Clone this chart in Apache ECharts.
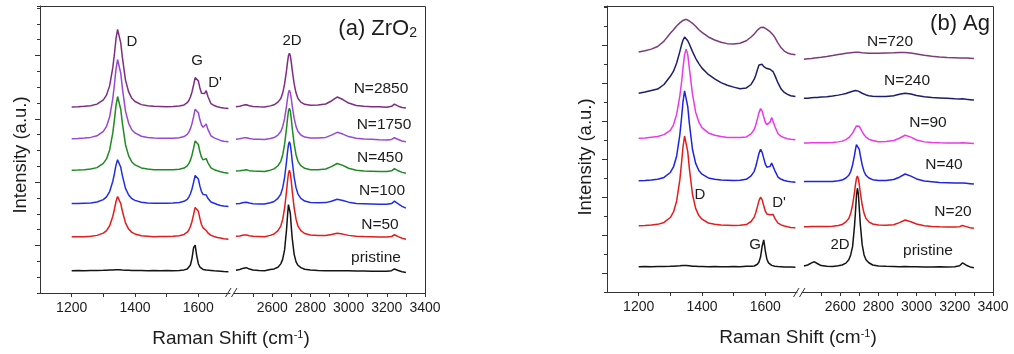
<!DOCTYPE html>
<html>
<head>
<meta charset="utf-8">
<title>Raman spectra</title>
<script src="https://cdn.jsdelivr.net/npm/echarts@6/dist/echarts.min.js"></script>
<style>
  html, body { margin: 0; padding: 0; background: #fff; }
  #chart { width: 1014px; height: 354px; }
</style>
</head>
<body>
<div id="chart"></div>
<script>
// Raman shift sampling (cm^-1), shared by every spectrum
const ramanLow = [1200, 1220, 1240, 1260, 1280, 1300, 1310, 1320, 1330, 1335, 1340, 1345, 1350, 1355, 1360, 1370,
  1380, 1390, 1400, 1420, 1440, 1460, 1480, 1500, 1520, 1540, 1555, 1565, 1570, 1575, 1580, 1585, 1590, 1595,
  1600, 1605, 1610, 1615, 1620, 1625, 1630, 1640, 1650, 1660, 1670, 1680, 1695]
const ramanHigh = [2410, 2430, 2450, 2465, 2480, 2500, 2530, 2560, 2590, 2610, 2630, 2645, 2655, 2665, 2675, 2680,
  2685, 2690, 2695, 2700, 2705, 2715, 2725, 2735, 2750, 2770, 2800, 2840, 2880, 2910, 2940, 2970, 3000, 3040,
  3080, 3120, 3160, 3200, 3225, 3240, 3250, 3260, 3280, 3300]

const lowTicks = [1200, 1300, 1400, 1500, 1600]
const lowTickLabels = [1200, 1400, 1600]
const highTicks = [2500, 2600, 2700, 2800, 2900, 3000, 3100, 3200, 3300, 3400]
const highTickLabels = [2600, 2800, 3000, 3200, 3400]
const zrMajorTicks = [3, 7, 11, 15]
const agMajorTicks = [1, 3, 5, 7, 9, 11, 13]

// (a) ZrO2 - stacked intensities (offset, a.u.)
const zrNames = ['N=2850', 'N=1750', 'N=450', 'N=100', 'N=50', 'pristine']
const zrColors = ['#7e2d82', '#9848d4', '#1f8a22', '#1f2fe0', '#e31d1d', '#141414']
const zr2850Low = [11.75, 11.76, 11.79, 11.83, 11.93, 12.20, 12.50, 13.10, 14.25, 15.10, 16.05, 16.65, 16.55, 15.80, 14.90, 13.45,
  12.70, 12.30, 12.10, 11.90, 11.83, 11.79, 11.78, 11.77, 11.78, 11.81, 11.88, 12.02, 12.16, 12.38, 12.70, 13.14, 13.61, 13.72,
  13.40, 12.95, 12.62, 12.50, 12.61, 12.78, 12.43, 11.96, 11.84, 11.77, 11.72, 11.68, 11.66]
const zr2850High = [11.77, 11.80, 11.87, 11.89, 11.83, 11.78, 11.76, 11.75, 11.82, 11.89, 12.06, 12.29, 12.63, 13.21, 14.06, 14.57,
  14.98, 15.15, 14.98, 14.57, 14.06, 13.21, 12.63, 12.29, 12.06, 11.92, 11.86, 11.87, 11.94, 12.13, 12.38, 12.22, 12.00, 11.85,
  11.79, 11.77, 11.76, 11.74, 11.79, 11.93, 11.92, 11.80, 11.72, 11.68]
const zr1750Low = [9.75, 9.76, 9.79, 9.83, 9.93, 10.21, 10.52, 11.13, 12.30, 13.17, 14.14, 14.75, 14.65, 13.88, 12.96, 11.49,
  10.72, 10.31, 10.11, 9.90, 9.83, 9.79, 9.78, 9.77, 9.78, 9.81, 9.88, 10.02, 10.16, 10.38, 10.70, 11.14, 11.61, 11.72,
  11.39, 10.94, 10.61, 10.47, 10.54, 10.68, 10.35, 9.93, 9.80, 9.72, 9.64, 9.59, 9.55]
const zr1750High = [9.72, 9.74, 9.80, 9.81, 9.76, 9.72, 9.71, 9.70, 9.76, 9.82, 9.98, 10.20, 10.51, 11.03, 11.81, 12.27,
  12.65, 12.80, 12.65, 12.27, 11.81, 11.03, 10.51, 10.20, 9.98, 9.85, 9.79, 9.79, 9.83, 9.97, 10.15, 10.04, 9.88, 9.77,
  9.73, 9.71, 9.68, 9.67, 9.70, 9.81, 9.80, 9.70, 9.60, 9.55]
const zr450Low = [7.76, 7.77, 7.79, 7.83, 7.92, 8.19, 8.47, 9.04, 10.13, 10.94, 11.84, 12.41, 12.32, 11.61, 10.75, 9.37,
  8.66, 8.28, 8.09, 7.90, 7.83, 7.79, 7.79, 7.78, 7.79, 7.82, 7.89, 8.03, 8.17, 8.39, 8.71, 9.15, 9.61, 9.72,
  9.38, 8.92, 8.58, 8.41, 8.42, 8.49, 8.24, 7.90, 7.79, 7.72, 7.66, 7.61, 7.57]
const zr450High = [7.70, 7.72, 7.76, 7.78, 7.73, 7.70, 7.69, 7.68, 7.76, 7.84, 8.04, 8.32, 8.72, 9.40, 10.40, 11.00,
  11.48, 11.68, 11.48, 11.00, 10.40, 9.40, 8.72, 8.32, 8.04, 7.88, 7.79, 7.79, 7.83, 7.98, 8.18, 8.06, 7.88, 7.75,
  7.71, 7.69, 7.67, 7.68, 7.72, 7.86, 7.85, 7.72, 7.62, 7.56]
const zr100Low = [5.65, 5.65, 5.67, 5.69, 5.75, 5.90, 6.07, 6.41, 7.06, 7.54, 8.08, 8.42, 8.37, 7.94, 7.43, 6.61,
  6.19, 5.96, 5.85, 5.73, 5.69, 5.67, 5.67, 5.67, 5.69, 5.72, 5.79, 5.92, 6.06, 6.27, 6.57, 6.99, 7.42, 7.52,
  7.20, 6.75, 6.41, 6.23, 6.18, 6.19, 5.99, 5.75, 5.67, 5.59, 5.53, 5.49, 5.46]
const zr100High = [5.64, 5.66, 5.72, 5.73, 5.68, 5.64, 5.63, 5.62, 5.70, 5.78, 5.98, 6.25, 6.64, 7.31, 8.30, 8.89,
  9.36, 9.56, 9.36, 8.89, 8.30, 7.31, 6.64, 6.25, 5.98, 5.81, 5.72, 5.70, 5.71, 5.80, 5.92, 5.84, 5.74, 5.66,
  5.64, 5.62, 5.60, 5.60, 5.65, 5.80, 5.79, 5.63, 5.47, 5.36]
const zr50Low = [3.55, 3.55, 3.56, 3.59, 3.64, 3.78, 3.94, 4.25, 4.85, 5.29, 5.78, 6.09, 6.04, 5.65, 5.18, 4.43,
  4.04, 3.83, 3.73, 3.62, 3.59, 3.56, 3.57, 3.57, 3.59, 3.62, 3.70, 3.84, 3.98, 4.20, 4.52, 4.96, 5.41, 5.51,
  5.17, 4.70, 4.33, 4.11, 4.00, 3.95, 3.80, 3.64, 3.57, 3.51, 3.47, 3.43, 3.40]
const zr50High = [3.58, 3.60, 3.66, 3.67, 3.62, 3.58, 3.57, 3.56, 3.64, 3.73, 3.94, 4.23, 4.65, 5.37, 6.42, 7.05,
  7.55, 7.76, 7.55, 7.05, 6.42, 5.37, 4.65, 4.23, 3.94, 3.76, 3.66, 3.63, 3.63, 3.69, 3.78, 3.72, 3.64, 3.59,
  3.57, 3.56, 3.54, 3.54, 3.57, 3.68, 3.67, 3.56, 3.46, 3.40]
const zr0Low = [1.41, 1.42, 1.41, 1.42, 1.42, 1.43, 1.44, 1.45, 1.46, 1.47, 1.47, 1.47, 1.47, 1.46, 1.45, 1.44,
  1.43, 1.42, 1.42, 1.42, 1.41, 1.42, 1.41, 1.42, 1.41, 1.42, 1.46, 1.52, 1.59, 1.77, 2.19, 2.87, 3.03, 2.35,
  1.85, 1.64, 1.54, 1.49, 1.47, 1.45, 1.44, 1.42, 1.40, 1.39, 1.38, 1.36, 1.35]
const zr0High = [1.44, 1.48, 1.57, 1.60, 1.51, 1.45, 1.42, 1.41, 1.48, 1.52, 1.63, 1.84, 2.14, 2.74, 3.99, 4.85,
  5.58, 5.62, 5.02, 4.16, 3.43, 2.44, 1.97, 1.75, 1.60, 1.50, 1.45, 1.42, 1.41, 1.40, 1.41, 1.40, 1.40, 1.39,
  1.39, 1.38, 1.38, 1.38, 1.41, 1.52, 1.52, 1.42, 1.34, 1.30]

// (b) Ag
const agNames = ['N=720', 'N=240', 'N=90', 'N=40', 'N=20', 'pristine']
const agColors = ['#7c3b7a', '#1d1d6c', '#e83ae8', '#1f22e2', '#e31d1d', '#141414']
const ag720Low = [12.63, 12.70, 12.78, 12.92, 13.20, 13.62, 13.80, 14.00, 14.16, 14.23, 14.29, 14.33, 14.35, 14.32, 14.26, 14.14,
  13.98, 13.80, 13.66, 13.42, 13.26, 13.14, 13.07, 13.05, 13.09, 13.22, 13.42, 13.58, 13.68, 13.78, 13.86, 13.92, 13.95, 13.93,
  13.88, 13.82, 13.76, 13.70, 13.62, 13.52, 13.40, 13.10, 12.85, 12.68, 12.58, 12.52, 12.48]
const ag720High = [12.25, 12.27, 12.29, 12.31, 12.33, 12.35, 12.39, 12.44, 12.50, 12.53, 12.56, 12.58, 12.59, 12.60, 12.61, 12.61,
  12.61, 12.61, 12.61, 12.60, 12.60, 12.59, 12.58, 12.58, 12.57, 12.57, 12.57, 12.58, 12.59, 12.60, 12.60, 12.58, 12.53, 12.46,
  12.41, 12.37, 12.34, 12.33, 12.32, 12.32, 12.31, 12.31, 12.30, 12.29]
const ag240Low = [10.46, 10.52, 10.60, 10.68, 10.92, 11.35, 11.62, 12.05, 12.65, 12.98, 13.25, 13.42, 13.38, 13.22, 13.05, 12.65,
  12.30, 12.02, 11.78, 11.45, 11.22, 11.02, 10.88, 10.78, 10.70, 10.74, 10.92, 11.20, 11.42, 11.70, 11.95, 12.04, 11.98, 11.86,
  11.80, 11.76, 11.74, 11.72, 11.68, 11.58, 11.40, 11.00, 10.68, 10.50, 10.40, 10.33, 10.29]
const ag240High = [10.19, 10.20, 10.22, 10.23, 10.24, 10.26, 10.28, 10.31, 10.36, 10.40, 10.45, 10.50, 10.53, 10.56, 10.59, 10.60,
  10.60, 10.59, 10.57, 10.55, 10.52, 10.46, 10.41, 10.37, 10.33, 10.30, 10.29, 10.29, 10.33, 10.41, 10.46, 10.42, 10.34, 10.27,
  10.23, 10.21, 10.19, 10.17, 10.16, 10.17, 10.16, 10.14, 10.12, 10.10]
const ag90Low = [8.09, 8.10, 8.14, 8.18, 8.28, 8.51, 8.80, 9.36, 10.31, 10.97, 11.78, 12.49, 12.77, 12.49, 11.78, 10.41,
  9.46, 8.94, 8.65, 8.37, 8.25, 8.18, 8.13, 8.13, 8.13, 8.16, 8.32, 8.55, 8.80, 9.11, 9.44, 9.65, 9.51, 9.21,
  8.93, 8.81, 8.78, 8.94, 9.18, 9.08, 8.72, 8.33, 8.19, 8.12, 8.07, 8.04, 8.01]
const ag90High = [7.84, 7.84, 7.85, 7.85, 7.85, 7.86, 7.86, 7.87, 7.90, 7.94, 8.02, 8.12, 8.22, 8.36, 8.56, 8.66,
  8.74, 8.79, 8.78, 8.72, 8.64, 8.44, 8.27, 8.15, 8.04, 7.97, 7.91, 7.92, 7.97, 8.09, 8.25, 8.15, 8.00, 7.90,
  7.87, 7.85, 7.84, 7.84, 7.84, 7.85, 7.85, 7.84, 7.83, 7.82]
const ag40Low = [5.86, 5.87, 5.89, 5.93, 6.03, 6.29, 6.58, 7.16, 8.27, 9.09, 10.00, 10.58, 10.49, 9.76, 8.89, 7.50,
  6.77, 6.39, 6.20, 6.00, 5.93, 5.89, 5.88, 5.87, 5.88, 5.93, 6.11, 6.35, 6.62, 6.95, 7.30, 7.51, 7.35, 7.03,
  6.73, 6.57, 6.51, 6.61, 6.78, 6.68, 6.39, 6.05, 5.93, 5.87, 5.83, 5.80, 5.78]
const ag40High = [5.81, 5.81, 5.82, 5.82, 5.81, 5.81, 5.81, 5.81, 5.85, 5.89, 6.00, 6.14, 6.34, 6.69, 7.20, 7.51,
  7.76, 7.86, 7.76, 7.51, 7.20, 6.69, 6.34, 6.14, 6.00, 5.91, 5.87, 5.87, 5.92, 6.04, 6.21, 6.10, 5.95, 5.84,
  5.80, 5.76, 5.75, 5.74, 5.73, 5.73, 5.72, 5.72, 5.70, 5.68]
const ag20Low = [3.49, 3.50, 3.52, 3.56, 3.66, 3.92, 4.21, 4.79, 5.90, 6.72, 7.63, 8.21, 8.12, 7.39, 6.52, 5.13,
  4.40, 4.02, 3.83, 3.63, 3.56, 3.52, 3.51, 3.50, 3.51, 3.55, 3.71, 3.94, 4.18, 4.49, 4.81, 4.99, 4.85, 4.54,
  4.25, 4.10, 4.03, 4.06, 4.16, 4.08, 3.87, 3.62, 3.53, 3.47, 3.43, 3.40, 3.38]
const ag20High = [3.44, 3.44, 3.45, 3.45, 3.45, 3.45, 3.45, 3.46, 3.50, 3.55, 3.69, 3.87, 4.14, 4.59, 5.25, 5.65,
  5.97, 6.10, 5.97, 5.65, 5.25, 4.59, 4.14, 3.87, 3.69, 3.58, 3.52, 3.51, 3.54, 3.65, 3.79, 3.70, 3.58, 3.49,
  3.45, 3.43, 3.42, 3.42, 3.44, 3.50, 3.50, 3.44, 3.38, 3.35]
const ag0Low = [1.33, 1.34, 1.33, 1.34, 1.34, 1.35, 1.36, 1.37, 1.38, 1.39, 1.40, 1.40, 1.40, 1.39, 1.38, 1.36,
  1.35, 1.34, 1.34, 1.33, 1.34, 1.33, 1.33, 1.34, 1.33, 1.35, 1.36, 1.37, 1.40, 1.46, 1.58, 1.85, 2.41, 2.74,
  2.17, 1.72, 1.53, 1.44, 1.40, 1.38, 1.36, 1.34, 1.33, 1.32, 1.31, 1.31, 1.30]
const ag0High = [1.37, 1.42, 1.53, 1.59, 1.50, 1.39, 1.35, 1.34, 1.38, 1.42, 1.52, 1.70, 1.95, 2.40, 3.48, 4.22,
  5.05, 5.46, 5.17, 4.39, 3.60, 2.49, 1.95, 1.70, 1.54, 1.42, 1.37, 1.35, 1.34, 1.33, 1.34, 1.33, 1.33, 1.32,
  1.32, 1.33, 1.32, 1.33, 1.38, 1.53, 1.53, 1.41, 1.32, 1.28]

const zrLow = [zr2850Low, zr1750Low, zr450Low, zr100Low, zr50Low, zr0Low]
const zrHigh = [zr2850High, zr1750High, zr450High, zr100High, zr50High, zr0High]
const agLow = [ag720Low, ag240Low, ag90Low, ag40Low, ag20Low, ag0Low]
const agHigh = [ag720High, ag240High, ag90High, ag40High, ag20High, ag0High]

const FONT = '"Liberation Sans", Arial, Helvetica, sans-serif'
const TEXT = '#1c1c1c'
const AXIS = '#333'

function pairs(xs, ys) {
  return xs.map((x, i) => [x, ys[i]])
}

function shiftAxis(gridIndex, min, max, ticks, tickLabels) {
  return {
    type: 'value', gridIndex, min, max, interval: 100,
    axisLine: { onZero: false, lineStyle: { color: AXIS, width: 1 } },
    axisTick: { customValues: ticks, length: 4, lineStyle: { color: AXIS } },
    axisLabel: {
      customValues: tickLabels, fontSize: 14, color: TEXT, fontFamily: FONT, margin: 8,
      formatter: value => String(value),
    },
    splitLine: { show: false },
  }
}

function intensityAxes(gridLow, gridHigh, max, majors) {
  return [
    {
      type: 'value', gridIndex: gridLow, position: 'left', min: 0, max, interval: 1,
      axisLine: { show: true, onZero: false, lineStyle: { color: AXIS, width: 1 } },
      axisTick: { length: 3, lineStyle: { color: AXIS } },
      axisLabel: { show: false },
      splitLine: { show: false },
    },
    {
      type: 'value', gridIndex: gridLow, position: 'left', min: 0, max,
      axisLine: { show: false },
      axisTick: { customValues: majors, length: 5, lineStyle: { color: AXIS } },
      axisLabel: { show: false },
      splitLine: { show: false },
    },
    { type: 'value', gridIndex: gridHigh, min: 0, max, show: false },
  ]
}

function spectrum(name, color, xs, ys, xAxisIndex, yAxisIndex) {
  return {
    type: 'line', name, xAxisIndex, yAxisIndex,
    data: pairs(xs, ys),
    symbol: 'none', showSymbol: false, silent: true,
    lineStyle: { color, width: 1.5 },
    itemStyle: { color },
  }
}

const series = []
zrNames.forEach((name, i) => {
  series.push(spectrum(name, zrColors[i], ramanLow, zrLow[i], 0, 0))
  series.push(spectrum(name, zrColors[i], ramanHigh, zrHigh[i], 1, 2))
})
agNames.forEach((name, i) => {
  series.push(spectrum(name, agColors[i], ramanLow, agLow[i], 2, 3))
  series.push(spectrum(name, agColors[i], ramanHigh, agHigh[i], 3, 5))
})

function label(text, x, y, size, extra) {
  return {
    type: 'text', x, y, silent: true,
    style: Object.assign({
      text, fill: TEXT, fontSize: size, fontFamily: FONT,
      align: 'center', verticalAlign: 'middle', textAlign: 'center', textVerticalAlign: 'middle',
    }, extra || {}),
  }
}

function border(x1, y1, x2, y2) {
  return { type: 'line', silent: true, shape: { x1, y1, x2, y2 }, style: { stroke: AXIS, lineWidth: 1 } }
}

const supRich = { sup: { fontSize: 11, fontFamily: FONT, fill: TEXT, verticalAlign: 'top' } }

const yTitleLeft = label('Intensity (a.u.)', 20.5, 155, 18.5)
yTitleLeft.rotation = Math.PI / 2
const yTitleRight = label('Intensity (a.u.)', 586, 157, 18.5)
yTitleRight.rotation = Math.PI / 2

const graphic = [
  // frames (top / right) and axis breaks
  border(40, 6.5, 425.5, 6.5), border(425.5, 6.5, 425.5, 293),
  border(607, 6.5, 993.5, 6.5), border(993.5, 6.5, 993.5, 292),
  border(225.5, 297, 231, 288), border(231.5, 297, 237, 288),
  border(793.5, 297, 799, 288), border(799.5, 297, 805, 288),
  // axis titles
  yTitleLeft, yTitleRight,
  label('Raman Shift (cm{sup|-1})', 231, 339, 19, { rich: supRich }),
  label('Raman Shift (cm{sup|-1})', 798, 338, 19, { rich: supRich }),
  // panel titles
  label('(a) ZrO{sub|2}', 417, 29, 22, {
    align: 'right', textAlign: 'right',
    rich: { sub: { fontSize: 14, fontFamily: FONT, fill: TEXT, verticalAlign: 'bottom' } },
  }),
  label('(b) Ag', 990, 24, 22, { align: 'right', textAlign: 'right' }),
  // peak labels
  label('D', 132, 42, 15), label('G', 197, 61, 15), label("D'", 215, 83, 15), label('2D', 292, 41, 15),
  label('D', 700, 195, 15), label("D'", 779, 203, 15), label('G', 755, 245, 15), label('2D', 840, 245, 15),
  // sample labels
  label(zrNames[0], 381, 89, 15.5), label(zrNames[1], 384, 125, 15.5), label(zrNames[2], 380, 158, 15.5),
  label(zrNames[3], 382, 191, 15.5), label(zrNames[4], 380, 225, 15.5), label(zrNames[5], 376, 258, 15.5),
  label(agNames[0], 890, 42, 15.5), label(agNames[1], 907, 81, 15.5), label(agNames[2], 928, 123, 15.5),
  label(agNames[3], 944, 165, 15.5), label(agNames[4], 953, 212, 15.5), label(agNames[5], 928, 251, 15.5),
]

const chart = echarts.init(document.getElementById('chart'), null, { renderer: 'canvas' })
chart.setOption({
  backgroundColor: '#fff',
  animation: false,
  textStyle: { fontFamily: FONT },
  grid: [
    { left: 40, top: 6, width: 190, height: 287, show: false },
    { left: 234, top: 6, width: 191, height: 287, show: false },
    { left: 607, top: 6, width: 190, height: 286, show: false },
    { left: 802, top: 6, width: 191, height: 286, show: false },
  ],
  xAxis: [
    shiftAxis(0, 1100, 1700, lowTicks, lowTickLabels),
    shiftAxis(1, 2400, 3400, highTicks, highTickLabels),
    shiftAxis(2, 1100, 1700, lowTicks, lowTickLabels),
    shiftAxis(3, 2400, 3400, highTicks, highTickLabels),
  ],
  yAxis: [
    ...intensityAxes(0, 1, 18.13, zrMajorTicks),
    ...intensityAxes(2, 3, 15.05, agMajorTicks),
  ],
  series,
  graphic,
})
</script>
</body>
</html>
